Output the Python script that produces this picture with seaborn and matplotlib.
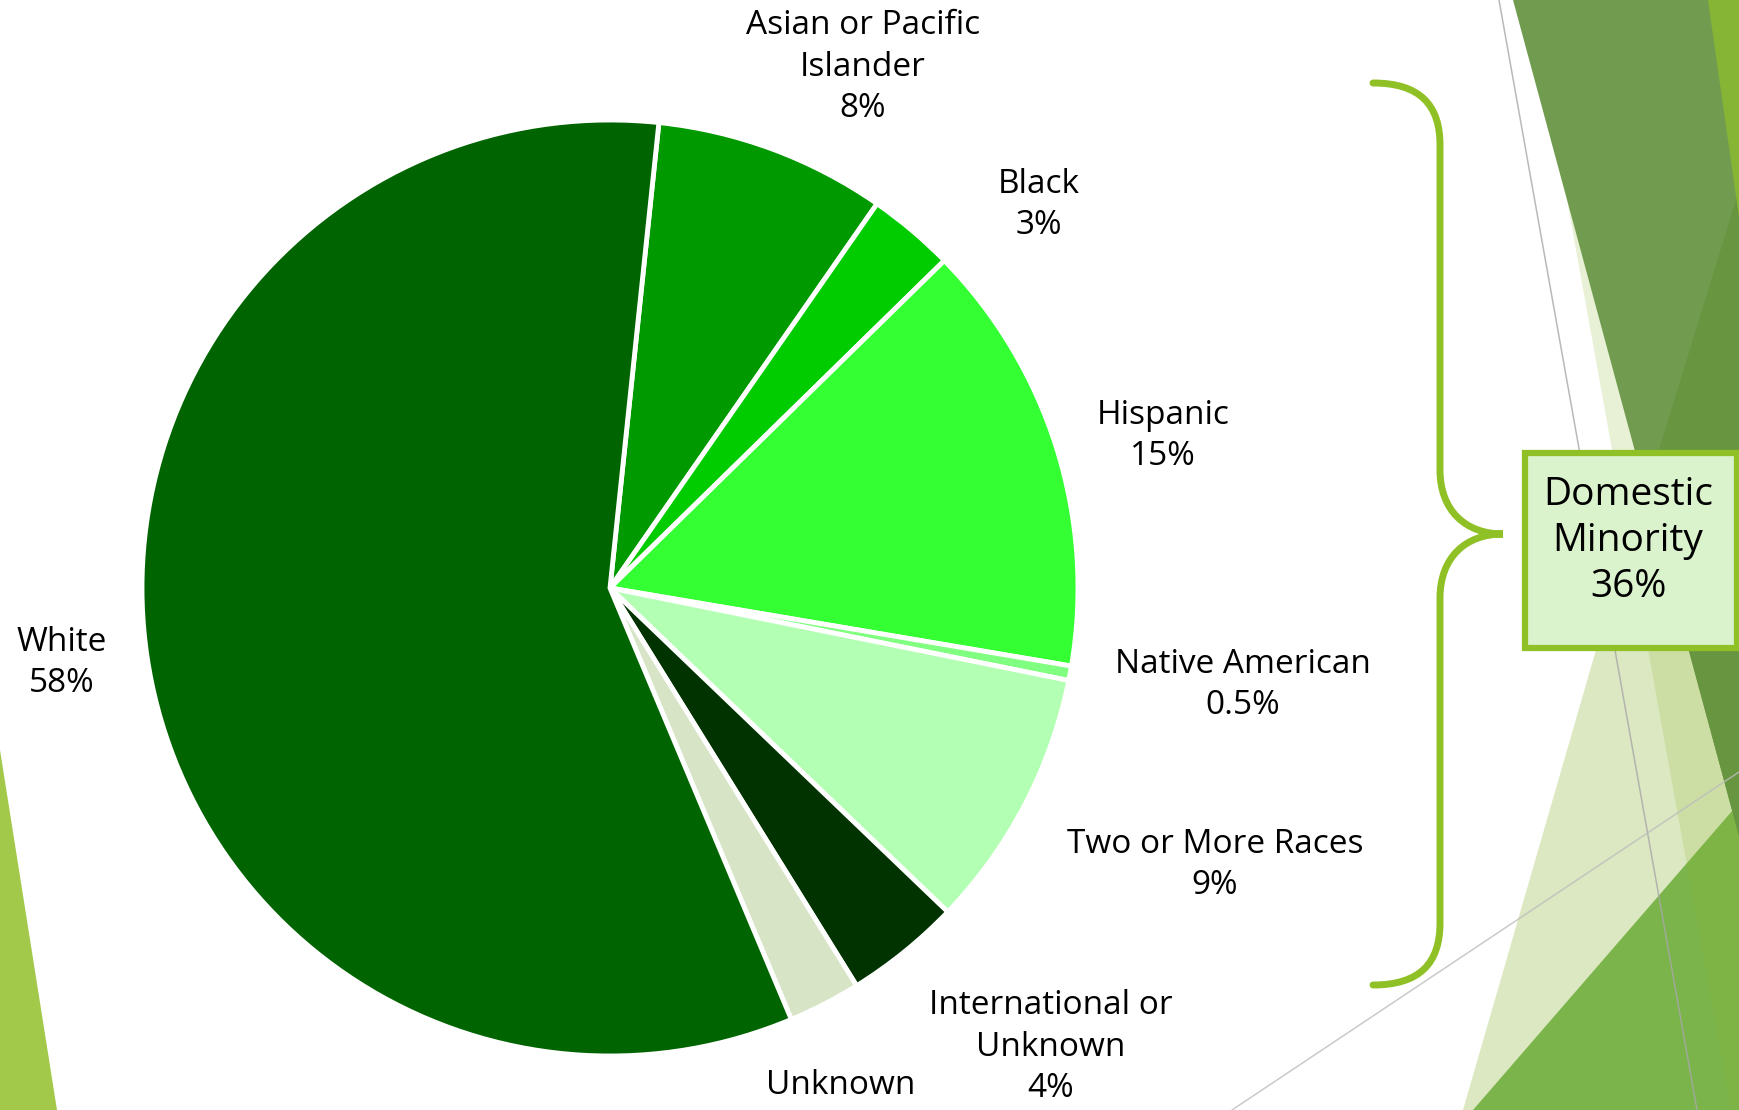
import matplotlib
matplotlib.use('Agg')
from matplotlib import pyplot as plt
from matplotlib.patches import Polygon, Rectangle, PathPatch
from matplotlib.path import Path
from matplotlib.lines import Line2D
import seaborn as sns

# enrollment shares, clockwise from the top of the pie
groups = ['Asian or Pacific\nIslander', 'Black', 'Hispanic', 'Native American',
          'Two or More Races', 'International or\nUnknown', 'Unknown', 'White']
shares = [8, 3, 15, 0.5, 9, 4, 2.5, 58]
pct_labels = ['8%', '3%', '15%', '0.5%', '9%', '4%', '', '58%']
slice_colors = ['#009900', '#00cc00', '#33ff33', '#80ff80',
                '#b3ffb3', '#003300', '#d7e4c5', '#006400']
n_minority = 5  # first five groups form the domestic minority

W, H = 1739, 1110
CENTER = (610, 588)
RADIUS = 468
# label centres in pixels (from top left)
label_pos = [(863, 67), (1039, 205), (1163, 436), (1243, 685),
             (1215, 865), (1051, 1047), (841, 1085), (62, 663)]

FONT = ['Open Sans', 'DejaVu Sans']
LIME = '#8fc127'


def fxy(x, y):
    return x / W, 1 - y / H


sns.set_style('white')
plt.rcParams['font.family'] = FONT

fig = plt.figure(figsize=(W / 100, H / 100), dpi=100)

# slide decoration (background theme shapes)
def _poly(points, color, alpha=1.0, z=-5):
    patch = Polygon([fxy(*p) for p in points], closed=True, transform=fig.transFigure,
                    facecolor=color, edgecolor='none', alpha=alpha, zorder=z)
    fig.add_artist(patch)


_poly([(0, 750), (57, 1110), (0, 1110)], '#a2c94a')
_poly([(1648, 470), (1739, 650), (1739, 1110), (1463, 1110)], '#8eb634', alpha=0.3)
_poly([(1473, 1110), (1739, 803), (1739, 1110)], '#7bb44b')
_poly([(1531, 0), (1739, 0), (1739, 1110), (1731, 1110)], '#8eb634', alpha=0.2)
_poly([(1513, 0), (1739, 0), (1739, 836)], '#719c4f')
_poly([(1739, 190), (1646, 492), (1739, 836)], '#679540')
_poly([(1708, 0), (1739, 0), (1739, 217)], '#86b535')
for (x0, y0), (x1, y1), c in [((1499, 0), (1697, 1110), '#a8a8a8'),
                              ((1232, 1110), (1739, 772), '#bdbdbd')]:
    (a0, b0), (a1, b1) = fxy(x0, y0), fxy(x1, y1)
    fig.add_artist(Line2D([a0, a1], [b0, b1], transform=fig.transFigure,
                          color=c, lw=1.1, alpha=0.8, zorder=-4))

# pie
ax = fig.add_axes([0, 0, 1, 1])
ax.pie(shares, colors=slice_colors, startangle=84, counterclock=False,
       radius=1, center=(0, 0),
       wedgeprops=dict(edgecolor='white', linewidth=3.5))
ax.set_xlim(-CENTER[0] / RADIUS, (W - CENTER[0]) / RADIUS)
ax.set_ylim(-(H - CENTER[1]) / RADIUS, CENTER[1] / RADIUS)
ax.patch.set_visible(False)
ax.axis('off')

for name, pct, (x, y) in zip(groups, pct_labels, label_pos):
    text = f'{name}\n{pct}' if pct else name
    fig.text(*fxy(x, y), text, ha='center', va='center', multialignment='center',
             fontsize=24, linespacing=1.33, color='black')

# curly brace around the domestic minority groups
verts = [(1373, 83), (1420, 83), (1440, 105), (1440, 145),
         (1440, 470),
         (1440, 510), (1465, 534), (1503, 534),
         (1465, 534), (1440, 558), (1440, 598),
         (1440, 923),
         (1440, 963), (1420, 985), (1373, 985)]
codes = [Path.MOVETO, Path.CURVE4, Path.CURVE4, Path.CURVE4,
         Path.LINETO,
         Path.CURVE4, Path.CURVE4, Path.CURVE4,
         Path.CURVE4, Path.CURVE4, Path.CURVE4,
         Path.LINETO,
         Path.CURVE4, Path.CURVE4, Path.CURVE4]
brace = PathPatch(Path([fxy(*v) for v in verts], codes), transform=fig.transFigure,
                  facecolor='none', edgecolor=LIME, lw=5, capstyle='round', zorder=3)
fig.add_artist(brace)

# summary box
bx0, by0 = fxy(1525, 648)
bx1, by1 = fxy(1737, 453)
fig.add_artist(Rectangle((bx0, by0), bx1 - bx0, by1 - by0, transform=fig.transFigure,
                         facecolor='#dbf3cd', edgecolor=LIME, lw=4.5, zorder=3))
minority_total = sum(shares[:n_minority])
fig.text(*fxy(1628, 541), f'Domestic\nMinority\n{minority_total:.0f}%',
         ha='center', va='center', multialignment='center',
         fontsize=28, linespacing=1.26, color='black', zorder=4)

fig.savefig('out.png', dpi=100)
